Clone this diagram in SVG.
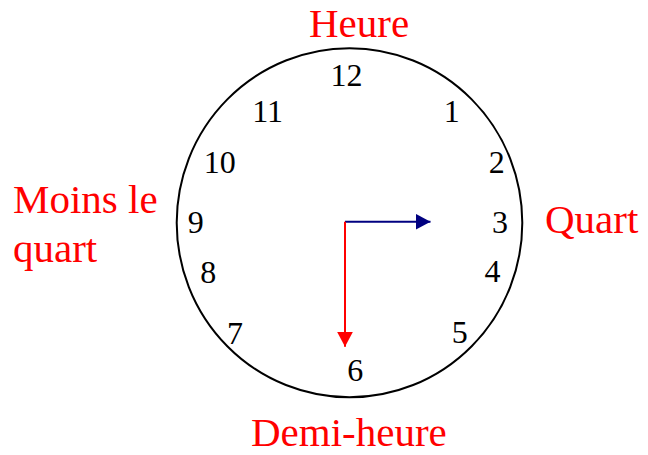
<svg xmlns="http://www.w3.org/2000/svg" width="648" height="455" viewBox="0 0 648 455">
<style>
.num{font-family:'Liberation Serif',Tinos,'Times New Roman','DejaVu Serif',serif;font-size:32px;fill:#000;text-anchor:middle}
.lbl{font-family:'Liberation Serif',Tinos,'Times New Roman','DejaVu Serif',serif;font-size:41px;fill:#ff0000}
.face{fill:#fff;stroke:#000;stroke-width:2}
</style>
<defs>
<marker id="ahBlue" markerUnits="userSpaceOnUse" markerWidth="16" markerHeight="16" refX="15" refY="8" orient="auto">
<path d="M0,0 L15,8 L0,16 Z" fill="#000080"/>
</marker>
<marker id="ahRed" markerUnits="userSpaceOnUse" markerWidth="16" markerHeight="16" refX="15" refY="8" orient="auto">
<path d="M0,0 L15,8 L0,16 Z" fill="#ff0000"/>
</marker>
</defs>
<rect width="648" height="455" fill="#fff"/>
<g id="clock">
<ellipse class="face" cx="349.5" cy="222.8" rx="172.8" ry="174.5"/>
<text class="num" x="346.6" y="86">12</text>
<text class="num" x="451.7" y="121.7">1</text>
<text class="num" x="496.7" y="172.7">2</text>
<text class="num" x="500" y="232.7">3</text>
<text class="num" x="492.5" y="281.7">4</text>
<text class="num" x="459.7" y="343.3">5</text>
<text class="num" x="355.3" y="380.7">6</text>
<text class="num" x="235" y="344">7</text>
<text class="num" x="208.3" y="282.7">8</text>
<text class="num" x="195.8" y="232.7">9</text>
<text class="num" x="219.8" y="172.5">10</text>
<text class="num" x="267.6" y="121.7">11</text>
</g>
<g id="connectors">
<line x1="345" y1="221.7" x2="430.5" y2="221.7" stroke="#000080" stroke-width="2" marker-end="url(#ahBlue)"/>
<line x1="345" y1="221.7" x2="345" y2="346.7" stroke="#ff0000" stroke-width="2" marker-end="url(#ahRed)"/>
</g>
<g id="label-heure"><text class="lbl" x="309" y="37">Heure</text></g>
<g id="label-quart"><text class="lbl" x="545" y="232.7">Quart</text></g>
<g id="label-demi"><text class="lbl" x="251" y="446">Demi-heure</text></g>
<g id="label-moins"><text class="lbl" x="13" y="213.3">Moins le</text><text class="lbl" x="13" y="261.7">quart</text></g>
</svg>
